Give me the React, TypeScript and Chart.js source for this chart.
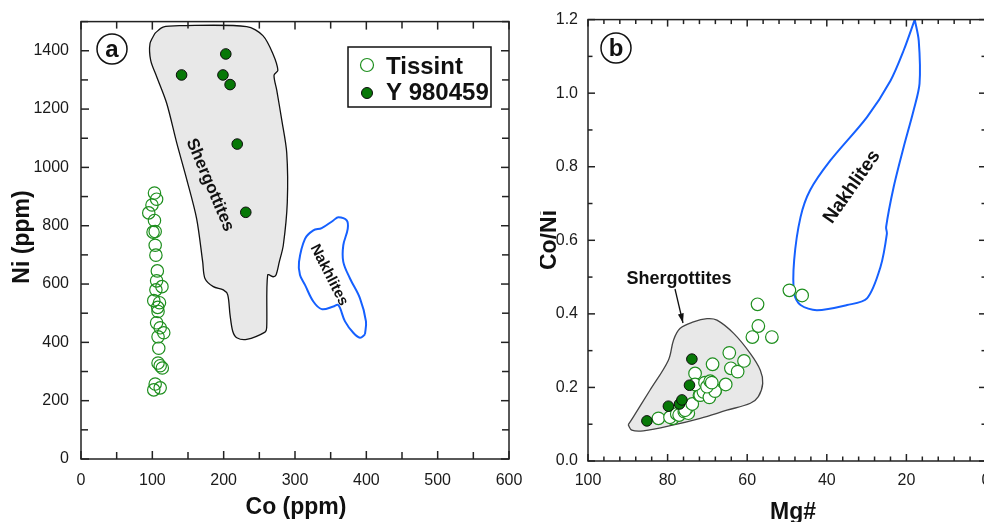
import React, { useEffect, useRef } from 'react';
import { Chart, registerables } from 'chart.js';
Chart.register(...registerables);

const FONT = "'Liberation Sans', Arial, Helvetica, sans-serif";

// ---------- Panel a: Ni vs Co ----------
const tissintCo = [103, 106, 99.5, 95, 103, 101, 104, 104, 105, 107, 106, 113.5, 105, 102, 110, 107.5, 108, 106, 111, 116, 108, 109, 108, 114, 111, 104, 102, 111];
const tissintNi = [912, 891, 871, 844, 818, 778, 780, 733, 699, 645, 611, 591, 580, 543, 536, 520, 506, 467, 450, 433, 419, 380, 329, 312, 320, 257, 237, 244];
const y980459Co = [141, 203, 199, 209, 219, 231];
const y980459Ni = [1317, 1389, 1317, 1284, 1080, 846];
const shergottitesCo = [103.7, 115, 138.8, 232.3, 255, 269, 276, 270.6, 274.4, 281.4, 288.4, 289.2, 283.6, 278, 273.4, 269.6, 261.7, 260.3, 258, 232.3, 218.3, 212.7, 208.9, 205.7, 199.5, 185.5, 173.8, 170.6, 162.2, 148.2, 134.2, 120.1, 106.1, 97.7, 96.7];
const shergottitesNi = [1460, 1481, 1486, 1483, 1452, 1390, 1333, 1316, 1265, 1163, 1050, 880, 733, 676, 631, 625, 631, 450, 435, 410, 416, 438, 495, 563, 580, 591, 619, 676, 823, 959, 1084, 1220, 1311, 1367, 1424];
const nakhlitesCo = [398.1, 391.1, 381.7, 370.1, 363.1, 359.9, 353.7, 337.4, 325.7, 314, 307, 305.6, 314, 325.7, 337.4, 353.7, 360.7, 372.5, 373.9, 367.7, 367.7, 377.1, 391.1, 399.5];
const nakhlitesNi = [427, 416, 433, 472, 518, 529, 523, 514, 540, 597, 631, 676, 755, 784, 792, 818, 829, 818, 789, 733, 676, 619, 551, 472];
const coTicks = [0, 100, 200, 300, 400, 500, 600];
const niTicks = [0, 200, 400, 600, 800, 1000, 1200, 1400];

// ---------- Panel b: Co/Ni vs Mg# ----------
const tissintMg = [82.3, 78.7, 79.4, 77.7, 77.1, 75.8, 74.8, 75.2, 75.6, 73.8, 72.0, 71.8, 71.0, 69.5, 68.0, 68.1, 73.1, 73.1, 70.6, 70.1, 69.3, 68.9, 68.7, 65.4, 64.5, 64.1, 62.4, 60.8, 58.7, 57.2, 57.4, 53.8, 49.4, 46.2];
const tissintCoNi = [0.116, 0.116, 0.119, 0.128, 0.125, 0.134, 0.130, 0.143, 0.138, 0.155, 0.179, 0.179, 0.188, 0.173, 0.193, 0.190, 0.238, 0.208, 0.213, 0.202, 0.217, 0.213, 0.263, 0.208, 0.294, 0.252, 0.243, 0.272, 0.337, 0.367, 0.426, 0.337, 0.464, 0.450];
const y980459Mg = [85.2, 79.8, 77.0, 76.4, 74.5, 73.9];
const y980459CoNi = [0.109, 0.149, 0.155, 0.166, 0.206, 0.277];
const shergottitesMg = [89.9, 88.6, 84.4, 79.8, 78.5, 76.9, 73.5, 70.1, 67.6, 63.4, 59.2, 56.7, 56.1, 57.2, 59.2, 65.1, 71.8, 78.5, 86.1, 89.0];
const shergottitesCoNi = [0.098, 0.120, 0.193, 0.274, 0.329, 0.360, 0.378, 0.387, 0.383, 0.347, 0.292, 0.247, 0.211, 0.175, 0.157, 0.138, 0.116, 0.098, 0.082, 0.084];
const nakhlitesMg = [17.9, 16.9, 16.7, 18.2, 20.7, 23.2, 25.1, 24.9, 26.5, 29.9, 34.9, 42.5, 46.6, 48.2, 48.2, 46.6, 44.2, 39.1, 29.9, 24.0, 20.7];
const nakhlitesCoNi = [1.200, 1.143, 1.026, 0.953, 0.853, 0.745, 0.636, 0.618, 0.528, 0.442, 0.424, 0.410, 0.424, 0.455, 0.546, 0.663, 0.736, 0.817, 0.935, 1.034, 1.116];
const mgTicks = [100, 80, 60, 40, 20, 0];
const coNiTicks = [0, 0.2, 0.4, 0.6, 0.8, 1.0, 1.2];

const OPEN_GREEN = '#1f8f1f';
const FILL_GREEN = '#077807';
const NAKH_BLUE = '#1560ff';

const pts = (xs: number[], ys: number[]) => xs.map((x, i) => ({ x, y: ys[i] }));
const closed = (xs: number[], ys: number[]) => {
  const p = pts(xs, ys);
  return [...p, p[0]];
};

function makeDecor(opt: {
  xMajor: number; xMinor: number; yMajor: number; yMinor: number;
  majorLen: number; minorLen: number; extra: (ctx: CanvasRenderingContext2D, chart: any) => void;
}) {
  return {
    id: 'decor',
    afterDraw(chart: any) {
      const { ctx, chartArea: ca, scales } = chart;
      const xs = scales.x, ys = scales.y;
      ctx.save();
      ctx.strokeStyle = '#222';
      ctx.lineWidth = 1.5;
      const ln = (x1: number, y1: number, x2: number, y2: number) => {
        ctx.beginPath(); ctx.moveTo(x1, y1); ctx.lineTo(x2, y2); ctx.stroke();
      };
      const xmin = Math.min(xs.min, xs.max), xmax = Math.max(xs.min, xs.max);
      const nx = Math.round((xmax - xmin) / opt.xMinor);
      for (let i = 0; i <= nx; i++) {
        const v = xmin + i * opt.xMinor;
        const r = v / opt.xMajor;
        const major = Math.abs(r - Math.round(r)) < 1e-6;
        const len = major ? opt.majorLen : opt.minorLen;
        const px = xs.getPixelForValue(v);
        ln(px, ca.bottom, px, ca.bottom - len);
        ln(px, ca.top, px, ca.top + len);
      }
      const ny = Math.round((ys.max - ys.min) / opt.yMinor);
      for (let i = 0; i <= ny; i++) {
        const v = ys.min + i * opt.yMinor;
        const r = v / opt.yMajor;
        const major = Math.abs(r - Math.round(r)) < 1e-6;
        const len = major ? opt.majorLen : opt.minorLen;
        const py = ys.getPixelForValue(v);
        ln(ca.left, py, ca.left + len, py);
        ln(ca.right, py, ca.right - len, py);
      }
      ctx.strokeRect(ca.left, ca.top, ca.right - ca.left, ca.bottom - ca.top);
      ctx.restore();
      ctx.save();
      opt.extra(ctx, chart);
      ctx.restore();
    },
  };
}

function rotText(ctx: CanvasRenderingContext2D, text: string, x: number, y: number, angDeg: number, font: string, baseline: CanvasTextBaseline = 'middle') {
  ctx.save();
  ctx.translate(x, y);
  ctx.rotate((angDeg * Math.PI) / 180);
  ctx.font = font;
  ctx.fillStyle = '#111';
  ctx.textAlign = 'center';
  ctx.textBaseline = baseline;
  ctx.fillText(text, 0, 0);
  ctx.restore();
}

function circledLetter(ctx: CanvasRenderingContext2D, letter: string, x: number, y: number) {
  ctx.beginPath();
  ctx.arc(x, y, 15, 0, Math.PI * 2);
  ctx.fillStyle = '#fff';
  ctx.fill();
  ctx.strokeStyle = '#111';
  ctx.lineWidth = 1.5;
  ctx.stroke();
  ctx.font = `bold 24px ${FONT}`;
  ctx.fillStyle = '#111';
  ctx.textAlign = 'center';
  ctx.textBaseline = 'middle';
  ctx.fillText(letter, x, y + 1);
}

const tickFont = { family: FONT, size: 16 };

function axis(min: number, max: number, ticks: number[], fit: (s: any) => void, pad: number, fmt: (v: number) => string, extra: any = {}) {
  return {
    type: 'linear',
    min, max,
    afterBuildTicks: (s: any) => { s.ticks = ticks.map((v) => ({ value: v })); },
    afterFit: fit,
    grid: { display: false, drawTicks: false },
    border: { display: false },
    ticks: { padding: pad, font: tickFont, color: '#1a1a1a', maxRotation: 0, autoSkip: false, callback: (v: any) => fmt(Number(v)) },
    ...extra,
  };
}

function configA(): any {
  return {
    type: 'scatter',
    data: {
      datasets: [
        { label: 'Y 980459', data: pts(y980459Co, y980459Ni), pointRadius: 5.3, pointBackgroundColor: FILL_GREEN, pointBorderColor: '#0d0d0d', pointBorderWidth: 1 },
        { label: 'Tissint', data: pts(tissintCo, tissintNi), pointRadius: 6.2, pointBackgroundColor: 'rgba(0,0,0,0)', pointBorderColor: OPEN_GREEN, pointBorderWidth: 1.2 },
        { type: 'line', label: 'Nakhlites', data: closed(nakhlitesCo, nakhlitesNi), borderColor: NAKH_BLUE, borderWidth: 2, pointRadius: 0, fill: false, tension: 0.35 },
        { type: 'line', label: 'Shergottites', data: closed(shergottitesCo, shergottitesNi), borderColor: '#111', borderWidth: 1.3, backgroundColor: '#e8e8e8', fill: 'shape', pointRadius: 0, tension: 0.3 },
      ],
    },
    options: {
      responsive: false,
      animation: false,
      layout: { padding: { left: 0, top: 16, right: 36, bottom: 0 } },
      plugins: { legend: { display: false }, tooltip: { enabled: false } },
      scales: {
        x: axis(0, 600, coTicks, (s: any) => { s.height = 63; }, 12, (v) => String(v)),
        y: axis(0, 1500, niTicks, (s: any) => { s.width = 81; }, 12, (v) => String(v)),
      },
    },
    plugins: [
      makeDecor({
        xMajor: 100, xMinor: 50, yMajor: 200, yMinor: 100, majorLen: 8, minorLen: 7,
        extra: (ctx) => {
          rotText(ctx, 'Co (ppm)', 296, 514, 0, `bold 23px ${FONT}`, 'alphabetic');
          rotText(ctx, 'Ni (ppm)', 29, 237, -90, `bold 23px ${FONT}`, 'alphabetic');
          rotText(ctx, 'Shergottites', 210, 185, 67, `bold 17px ${FONT}`);
          rotText(ctx, 'Nakhlites', 329, 275, 63, `bold 15px ${FONT}`);
          circledLetter(ctx, 'a', 112, 49);
          // legend
          ctx.fillStyle = '#fff';
          ctx.fillRect(348, 47, 143, 60);
          ctx.strokeStyle = '#111';
          ctx.lineWidth = 1.5;
          ctx.strokeRect(348, 47, 143, 60);
          ctx.beginPath();
          ctx.arc(367, 65, 6.5, 0, Math.PI * 2);
          ctx.strokeStyle = OPEN_GREEN;
          ctx.lineWidth = 1.2;
          ctx.stroke();
          ctx.beginPath();
          ctx.arc(367, 93, 5.5, 0, Math.PI * 2);
          ctx.fillStyle = FILL_GREEN;
          ctx.fill();
          ctx.strokeStyle = '#0d0d0d';
          ctx.lineWidth = 1;
          ctx.stroke();
          ctx.font = `bold 24px ${FONT}`;
          ctx.fillStyle = '#111';
          ctx.textAlign = 'left';
          ctx.textBaseline = 'alphabetic';
          ctx.fillText('Tissint', 386, 73.5);
          ctx.fillText('Y 980459', 386, 99.5);
        },
      }),
    ],
  };
}

function configB(): any {
  return {
    type: 'scatter',
    data: {
      datasets: [
        { label: 'Y 980459', data: pts(y980459Mg, y980459CoNi), pointRadius: 5.3, pointBackgroundColor: FILL_GREEN, pointBorderColor: '#0d0d0d', pointBorderWidth: 1 },
        { label: 'Tissint', data: pts(tissintMg, tissintCoNi), pointRadius: 6.3, pointBackgroundColor: '#ffffff', pointBorderColor: OPEN_GREEN, pointBorderWidth: 1.2 },
        { type: 'line', label: 'Nakhlites', data: closed(nakhlitesMg, nakhlitesCoNi), borderColor: NAKH_BLUE, borderWidth: 2, pointRadius: 0, fill: false, tension: 0.3 },
        { type: 'line', label: 'Shergottites', data: closed(shergottitesMg, shergottitesCoNi), borderColor: '#444', borderWidth: 1.3, backgroundColor: '#e8e8e8', fill: 'shape', pointRadius: 0, tension: 0.35 },
      ],
    },
    options: {
      responsive: false,
      animation: false,
      layout: { padding: { left: 0, top: 19, right: 24, bottom: 0 } },
      plugins: { legend: { display: false }, tooltip: { enabled: false } },
      scales: {
        x: axis(0, 100, mgTicks, (s: any) => { s.height = 61; }, 10, (v) => String(v), { reverse: true }),
        y: axis(0, 1.2, coNiTicks, (s: any) => { s.width = 48; }, 10, (v) => v.toFixed(1)),
      },
    },
    plugins: [
      makeDecor({
        xMajor: 20, xMinor: 4, yMajor: 0.2, yMinor: 0.1, majorLen: 7, minorLen: 4.5,
        extra: (ctx) => {
          rotText(ctx, 'Mg#', 253, 519, 0, `bold 23px ${FONT}`, 'alphabetic');
          rotText(ctx, 'Co/Ni', 16, 240, -90, `bold 23px ${FONT}`, 'alphabetic');
          rotText(ctx, 'Shergottites', 139, 279, 0, `bold 18px ${FONT}`);
          rotText(ctx, 'Nakhlites', 312, 187, -55, `bold 19px ${FONT}`);
          circledLetter(ctx, 'b', 76, 48);
          // arrow
          ctx.strokeStyle = '#111';
          ctx.fillStyle = '#111';
          ctx.lineWidth = 1.3;
          const x1 = 135, y1 = 289, x2 = 143, y2 = 323;
          ctx.beginPath(); ctx.moveTo(x1, y1); ctx.lineTo(x2, y2); ctx.stroke();
          const a = Math.atan2(y2 - y1, x2 - x1);
          ctx.beginPath();
          ctx.moveTo(x2, y2);
          ctx.lineTo(x2 - 10 * Math.cos(a - 0.3), y2 - 10 * Math.sin(a - 0.3));
          ctx.lineTo(x2 - 10 * Math.cos(a + 0.3), y2 - 10 * Math.sin(a + 0.3));
          ctx.closePath();
          ctx.fill();
        },
      }),
    ],
  };
}

export default function App() {
  const refA = useRef<HTMLCanvasElement | null>(null);
  const refB = useRef<HTMLCanvasElement | null>(null);
  useEffect(() => {
    const a = new Chart(refA.current as HTMLCanvasElement, configA());
    const b = new Chart(refB.current as HTMLCanvasElement, configB());
    return () => { a.destroy(); b.destroy(); };
  }, []);
  return (
    <div style={{ position: 'fixed', left: 0, top: 0, width: 984, height: 522, overflow: 'hidden', background: '#fff' }}>
      <canvas ref={refA} width={545} height={522} style={{ position: 'absolute', left: 0, top: 0, width: 545, height: 522 }} />
      <canvas ref={refB} width={470} height={522} style={{ position: 'absolute', left: 540, top: 0, width: 470, height: 522 }} />
    </div>
  );
}
